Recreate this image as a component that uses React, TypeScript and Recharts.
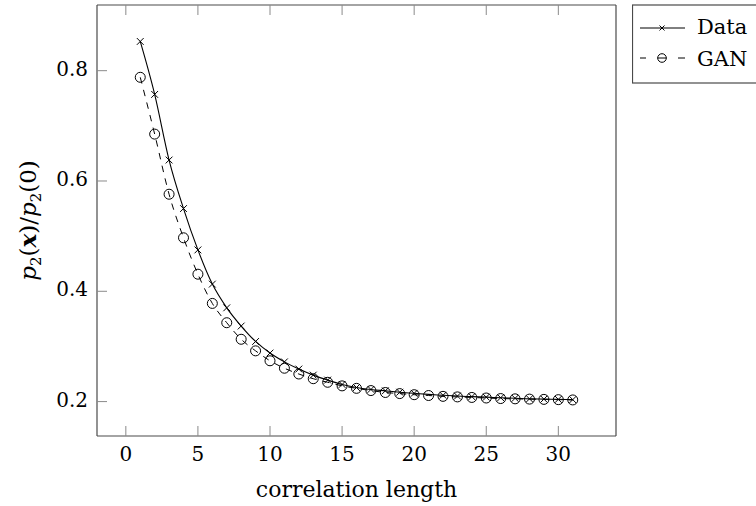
import React from 'react';
import { LineChart, Line, XAxis, YAxis } from 'recharts';

const FONT = '"DejaVu Serif", serif';

const correlationLength = [
  1, 2, 3, 4, 5, 6, 7, 8, 9, 10, 11, 12, 13, 14, 15, 16,
  17, 18, 19, 20, 21, 22, 23, 24, 25, 26, 27, 28, 29, 30, 31,
];
const dataSeries = [
  0.853, 0.757, 0.638, 0.55, 0.475, 0.413, 0.37, 0.337, 0.309, 0.288, 0.272,
  0.259, 0.248, 0.239, 0.231, 0.2255, 0.222, 0.2195, 0.217, 0.215, 0.213,
  0.2115, 0.21, 0.209, 0.208, 0.207, 0.206, 0.205, 0.2045, 0.204, 0.2035,
];
const ganSeries = [
  0.788, 0.685, 0.576, 0.497, 0.431, 0.378, 0.343, 0.313, 0.292, 0.274, 0.2605,
  0.25, 0.2415, 0.235, 0.2285, 0.224, 0.22, 0.2165, 0.2145, 0.2125, 0.211,
  0.2095, 0.2085, 0.2075, 0.2065, 0.2055, 0.205, 0.2045, 0.204, 0.2035, 0.203,
];
const hiddenDataMarks = [21];
const xTicks = [0, 5, 10, 15, 20, 25, 30];
const yTicks = [0.2, 0.4, 0.6, 0.8];
const xDomain = [-2, 34];
const yDomain = [0.1376, 0.9191];
const seriesNames = ['Data', 'GAN'];

const rows = correlationLength.map((x, i) => ({
  x,
  data: dataSeries[i],
  gan: ganSeries[i],
}));

const AXIS_STROKE = '#4a4a4a';
const TICK_STROKE = '#8a8a8a';
const TICK_LEN = 10;
const BOTTOM_MARGIN = 11;
const LEFT_MARGIN = 9;

const CrossDot = (props: any) => {
  const { cx, cy, payload, index } = props;
  if (cx == null || cy == null || hiddenDataMarks.includes(payload?.x)) {
    return <g key={`cross-${index}`} />;
  }
  const s = 3.4;
  return (
    <g key={`cross-${index}`}>
      <line x1={cx - s} y1={cy - s} x2={cx + s} y2={cy + s} stroke="#000" strokeWidth={1} />
      <line x1={cx - s} y1={cy + s} x2={cx + s} y2={cy - s} stroke="#000" strokeWidth={1} />
    </g>
  );
};

const CircleDot = (props: any) => {
  const { cx, cy, index } = props;
  if (cx == null || cy == null) return <g key={`circ-${index}`} />;
  return (
    <circle key={`circ-${index}`} cx={cx} cy={cy} r={5} fill="none" stroke="#000" strokeWidth={1} />
  );
};

const BottomTick = (props: any) => {
  const { x, y, payload } = props;
  const axisY = y - BOTTOM_MARGIN;
  return (
    <g>
      <line x1={x} y1={axisY} x2={x} y2={axisY - TICK_LEN} stroke={TICK_STROKE} strokeWidth={1} />
      <text x={x} y={y} dy="0.71em" textAnchor="middle" fontFamily={FONT} fontSize={20} fill="#000">
        {payload.value}
      </text>
    </g>
  );
};

const LeftTick = (props: any) => {
  const { x, y, payload } = props;
  const axisX = x + LEFT_MARGIN;
  return (
    <g>
      <line x1={axisX} y1={y} x2={axisX + TICK_LEN} y2={y} stroke={TICK_STROKE} strokeWidth={1} />
      <text x={x} y={y} dy={5} textAnchor="end" fontFamily={FONT} fontSize={20} fill="#000">
        {Number(payload.value).toFixed(1)}
      </text>
    </g>
  );
};

const TopTick = (props: any) => {
  const { x, y } = props;
  return <line x1={x} y1={y} x2={x} y2={y + TICK_LEN} stroke={TICK_STROKE} strokeWidth={1} />;
};

const RightTick = (props: any) => {
  const { x, y } = props;
  return <line x1={x} y1={y} x2={x - TICK_LEN} y2={y} stroke={TICK_STROKE} strokeWidth={1} />;
};

const XLabel = (props: any) => {
  const vb = props.viewBox || { x: 97, y: 436, width: 519, height: 70 };
  return (
    <text
      x={vb.x + vb.width / 2}
      y={vb.y + 60.5}
      textAnchor="middle"
      fontFamily={FONT}
      fontSize={22}
      fill="#000"
    >
      correlation length
    </text>
  );
};

const YLabel = (props: any) => {
  const vb = props.viewBox || { x: 0, y: 5, width: 97, height: 431 };
  const cx = 36;
  const cy = vb.y + vb.height / 2;
  return (
    <text
      x={cx}
      y={cy}
      transform={`rotate(-90, ${cx}, ${cy})`}
      textAnchor="middle"
      fontFamily={FONT}
      fontSize={23}
      fill="#000"
    >
      <tspan fontStyle="italic">p</tspan>
      <tspan fontSize={15} dy={5}>2</tspan>
      <tspan dy={-5}>(</tspan>
      <tspan fontStyle="italic" fontWeight="bold">x</tspan>
      <tspan>)/</tspan>
      <tspan fontStyle="italic">p</tspan>
      <tspan fontSize={15} dy={5}>2</tspan>
      <tspan dy={-5}>(0)</tspan>
    </text>
  );
};

const LegendBox = () => (
  <svg
    width={124}
    height={84}
    style={{ position: 'absolute', left: 632, top: 0, overflow: 'hidden' }}
  >
    <rect x={0.5} y={5} width={140} height={78} fill="#fff" stroke={AXIS_STROKE} strokeWidth={1.2} />
    <line x1={8} y1={28} x2={53} y2={28} stroke="#000" strokeWidth={1} />
    <line x1={27.5} y1={25.5} x2={32.5} y2={30.5} stroke="#000" strokeWidth={1} />
    <line x1={27.5} y1={30.5} x2={32.5} y2={25.5} stroke="#000" strokeWidth={1} />
    <text x={65} y={34} fontFamily={FONT} fontSize={21} fill="#000">
      {seriesNames[0]}
    </text>
    <line x1={8} y1={58} x2={14} y2={58} stroke="#000" strokeWidth={1} />
    <line x1={25.5} y1={58} x2={34.5} y2={58} stroke="#000" strokeWidth={1} />
    <line x1={46} y1={58} x2={53} y2={58} stroke="#000" strokeWidth={1} />
    <circle cx={30} cy={58} r={4.3} fill="none" stroke="#000" strokeWidth={1} />
    <text x={65} y={66} fontFamily={FONT} fontSize={21} fill="#000">
      {seriesNames[1]}
    </text>
  </svg>
);

export default function App() {
  return (
    <div
      style={{
        position: 'absolute',
        left: 0,
        top: 0,
        width: 756,
        height: 506,
        overflow: 'hidden',
        background: '#fff',
      }}
    >
      <LineChart
        width={756}
        height={506}
        data={rows}
        margin={{ top: 4, right: 139, bottom: 0, left: 0 }}
      >
        <XAxis
          dataKey="x"
          type="number"
          domain={xDomain}
          ticks={xTicks}
          interval={0}
          height={70}
          tickSize={0}
          tickMargin={BOTTOM_MARGIN}
          tick={BottomTick}
          tickLine={false}
          axisLine={{ stroke: AXIS_STROKE, strokeWidth: 1.2 }}
          label={XLabel}
        />
        <XAxis
          xAxisId="top"
          orientation="top"
          dataKey="x"
          type="number"
          domain={xDomain}
          ticks={xTicks}
          interval={0}
          height={1}
          tickSize={0}
          tickMargin={0}
          tick={TopTick}
          tickLine={false}
          axisLine={{ stroke: AXIS_STROKE, strokeWidth: 1.2 }}
        />
        <YAxis
          type="number"
          domain={yDomain}
          ticks={yTicks}
          interval={0}
          width={97}
          tickSize={0}
          tickMargin={LEFT_MARGIN}
          tick={LeftTick}
          tickLine={false}
          axisLine={{ stroke: AXIS_STROKE, strokeWidth: 1.2 }}
          label={YLabel}
        />
        <YAxis
          yAxisId="right"
          orientation="right"
          type="number"
          domain={yDomain}
          ticks={yTicks}
          interval={0}
          width={1}
          tickSize={0}
          tickMargin={0}
          tick={RightTick}
          tickLine={false}
          axisLine={{ stroke: AXIS_STROKE, strokeWidth: 1.2 }}
        />
        <Line
          dataKey="gan"
          name={seriesNames[1]}
          type="monotone"
          stroke="#000"
          strokeWidth={1}
          strokeDasharray="6.5 6.5"
          dot={CircleDot}
          activeDot={false}
          isAnimationActive={false}
        />
        <Line
          dataKey="data"
          name={seriesNames[0]}
          type="monotone"
          stroke="#000"
          strokeWidth={1.1}
          dot={CrossDot}
          activeDot={false}
          isAnimationActive={false}
        />
      </LineChart>
      <LegendBox />
    </div>
  );
}
